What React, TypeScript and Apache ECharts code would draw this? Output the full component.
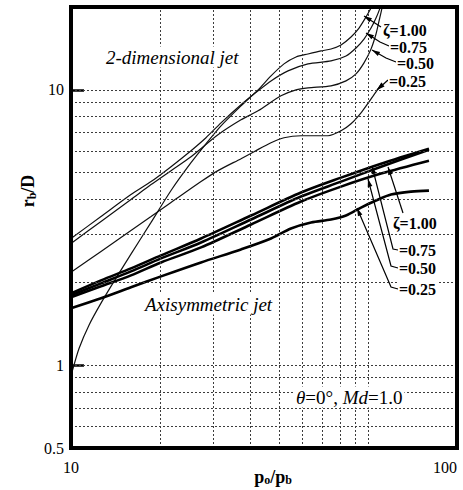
import React, { useEffect, useRef } from "react";
import * as echarts from "echarts";

// ---------- axes / ticks ----------
const xTickLabels = [10, 100];
const yTickLabels = [0.5, 1, 10];
const yTickMarks = [1, 10];
const yGridValues = [0.6, 0.7, 0.8, 0.9, 1, 2, 3, 4, 5, 6, 7, 8, 9, 10];
// the printed vertical grid follows its own log scale (10 .. ~198 across the frame)
const xGridValues = [20, 30, 40, 50, 60, 70, 80, 90, 100];
const xGridScaleMin = 10;
const xGridScaleMax = 198;

// ---------- 2-dimensional jet (thin lines) ----------
const jet2dZeta100: number[][] = [
  [10.06, 0.943], [10.49, 1.15], [11.14, 1.4], [11.96, 1.68], [13.08, 2.07], [14.3, 2.53],
  [16.12, 3.3], [18.16, 4.31], [20.46, 5.44], [22.37, 6.37], [24.47, 7.4], [27.57, 8.75],
  [30.52, 10.0], [32.97, 11.24], [35.63, 12.43], [38.28, 13.17], [41.11, 13.5], [44.44, 13.85],
  [47.17, 14.08], [50.07, 14.56], [53.14, 15.56], [55.74, 16.77], [58.11, 18.39], [59.88, 19.82],
  [60.6, 20.5],
];
const jet2dZeta075: number[][] = [
  [10, 2.885], [11.96, 3.466], [14.3, 4.165], [16.12, 4.642], [18.16, 5.26], [20.46, 6.01],
  [22.37, 6.7], [24.47, 7.59], [27.57, 8.83], [30.52, 9.92], [32.97, 10.78], [36.49, 11.72],
  [41.11, 12.43], [47.17, 12.74], [51.57, 13.28], [54.75, 14.2], [57.42, 15.3], [59.88, 16.77],
  [61.69, 18.23], [63.17, 19.82], [63.6, 20.5],
];
const jet2dZeta050: number[][] = [
  [10, 2.767], [11.96, 3.325], [14.3, 3.995], [16.12, 4.527], [18.16, 5.088], [20.46, 5.718],
  [24.03, 6.871], [27.57, 7.787], [30.52, 8.39], [34.99, 9.513], [38.28, 10.0], [41.11, 10.17],
  [47.17, 10.34], [51.57, 10.78], [54.75, 11.43], [57.42, 12.53], [59.88, 14.08], [61.69, 15.96],
  [62.8, 17.78], [63.93, 19.82], [64.2, 20.5],
];
const jet2dZeta025: number[][] = [
  [10, 2.173], [11.96, 2.588], [14.3, 3.084], [16.12, 3.466], [18.16, 3.896], [21.72, 4.642],
  [24.03, 5.088], [27.57, 5.623], [29.8, 5.963], [32.97, 6.427], [35.63, 6.701], [39.44, 6.813],
  [46.33, 6.813], [50.07, 7.1], [53.14, 7.53], [56.41, 8.254], [59.16, 9.05], [61.69, 9.834],
  [63.93, 10.6],
];

// ---------- axisymmetric jet (thick lines) ----------
const axiZeta100: number[][] = [
  [10, 1.823], [11.96, 2.032], [14.3, 2.246], [17.11, 2.504], [21.72, 2.885], [29.27, 3.495],
  [39.44, 4.236], [50.07, 4.799], [63.56, 5.394], [84.6, 6.113],
];
const axiZeta075: number[][] = [
  [10, 1.793], [11.96, 1.982], [14.3, 2.19], [17.11, 2.442], [21.72, 2.79], [29.27, 3.381],
  [39.44, 4.096], [50.07, 4.642], [63.56, 5.26], [84.6, 6.063],
];
const axiZeta050: number[][] = [
  [10, 1.764], [11.96, 1.933], [14.3, 2.119], [17.11, 2.361], [21.72, 2.677], [29.27, 3.243],
  [39.44, 3.929], [50.07, 4.451], [63.56, 4.963], [84.6, 5.53],
];
const axiZeta025: number[][] = [
  [10, 1.609], [11.96, 1.749], [14.3, 1.917], [17.11, 2.101], [21.72, 2.361], [27.57, 2.633],
  [32.97, 2.885], [37.14, 3.135], [41.87, 3.297], [47.17, 3.381], [51.57, 3.495], [56.41, 3.736],
  [61.69, 3.962], [67.45, 4.165], [76.0, 4.27], [84.6, 4.306],
];

const zetaLabels2d = ["ζ=1.00", "=0.75", "=0.50", "=0.25"];
const zetaLabelsAxi = ["ζ=1.00", "=0.75", "=0.50", "=0.25"];

const FONT = '"Liberation Serif", "Times New Roman", serif';

// annotation layout (pixels)
const labelPos2d = [
  { x: 382, y: 30, leader: [[381, 27], [364, 16]] },
  { x: 389, y: 47, leader: [[389, 46], [380, 42], [366, 33]] },
  { x: 396, y: 63, leader: [[396, 62], [386, 58], [372, 50]] },
  { x: 388, y: 81, leader: [[388, 80], [377, 90]] },
];
const labelPosAxi = [
  { x: 392, y: 223, leader: [[403, 213], [388, 167]] },
  { x: 398, y: 250, leader: [[398, 250], [393, 249], [372, 166]] },
  { x: 398, y: 268, leader: [[398, 268], [391, 266], [368, 179]] },
  { x: 398, y: 289, leader: [[398, 289], [391, 287], [357, 208]] },
];

function arrow(points: number[][], z: number) {
  const n = points.length;
  const [x2, y2] = points[n - 1];
  const [x1, y1] = points[n - 2];
  const len = Math.hypot(x2 - x1, y2 - y1) || 1;
  const dx = (x2 - x1) / len;
  const dy = (y2 - y1) / len;
  const L = 8;
  const w = 2.4;
  const bx = x2 - dx * L;
  const by = y2 - dy * L;
  return [
    {
      type: "polyline",
      z,
      shape: { points },
      style: { stroke: "#000", lineWidth: 1.2, fill: null },
    },
    {
      type: "polygon",
      z,
      shape: {
        points: [
          [x2, y2],
          [bx - dy * w, by + dx * w],
          [bx + dy * w, by - dx * w],
        ],
      },
      style: { fill: "#000" },
    },
  ];
}

export default function App() {
  const ref = useRef<HTMLDivElement>(null);

  useEffect(() => {
    const chart = echarts.init(ref.current!, null, { renderer: "svg" });

    const gridLineStyle = { color: "#3c3c3c", width: 1, type: [2, 2] };

    const thin = (name: string, data: number[][]) => ({
      name,
      type: "line",
      data,
      smooth: 0.25,
      symbol: "none",
      z: 3,
      lineStyle: { color: "#111", width: 1.2 },
    });
    const thick = (name: string, data: number[][]) => ({
      name,
      type: "line",
      data,
      smooth: 0.3,
      symbol: "none",
      z: 4,
      lineStyle: { color: "#000", width: 2.6 },
    });

    const labelStyle = {
      fontFamily: FONT,
      fontSize: 16,
      fontWeight: "bold",
      fill: "#000",
      align: "left",
      verticalAlign: "middle",
      backgroundColor: "#fff",
      padding: [0, 1],
    };

    const graphics: any[] = [];
    labelPos2d.forEach((p, i) => {
      graphics.push(...arrow(p.leader, 90));
      graphics.push({ type: "text", z: 100, x: p.x, y: p.y, style: { ...labelStyle, text: zetaLabels2d[i] } });
    });
    labelPosAxi.forEach((p, i) => {
      graphics.push(...arrow(p.leader, 90));
      graphics.push({ type: "text", z: 100, x: p.x, y: p.y, style: { ...labelStyle, text: zetaLabelsAxi[i] } });
    });

    graphics.push(
      {
        type: "text",
        z: 100,
        x: 104,
        y: 57,
        style: {
          text: "2-dimensional jet",
          fontFamily: FONT,
          fontStyle: "italic",
          fontSize: 19,
          fill: "#000",
          align: "left",
          verticalAlign: "middle",
          backgroundColor: "#fff",
          padding: [1, 2],
        },
      },
      {
        type: "text",
        z: 100,
        x: 143,
        y: 304,
        style: {
          text: "Axisymmetric jet",
          fontFamily: FONT,
          fontStyle: "italic",
          fontSize: 19,
          fill: "#000",
          align: "left",
          verticalAlign: "middle",
          backgroundColor: "#fff",
          padding: [1, 2],
        },
      },
      {
        type: "text",
        z: 100,
        x: 294,
        y: 397,
        style: {
          text: "{i|θ}{n|=0°, }{i|Md}{n|=1.0}",
          align: "left",
          verticalAlign: "middle",
          backgroundColor: "#fff",
          padding: [1, 2],
          rich: {
            i: { fontFamily: FONT, fontStyle: "italic", fontSize: 19, fill: "#000" },
            n: { fontFamily: FONT, fontSize: 19, fill: "#000" },
          },
        },
      },
      {
        type: "text",
        z: 100,
        x: 28,
        y: 191,
        rotation: Math.PI / 2,
        style: {
          text: "{a|r}{s|b}{a|/D}",
          align: "center",
          verticalAlign: "middle",
          rich: {
            a: { fontFamily: FONT, fontWeight: "bold", fontSize: 18, fill: "#000" },
            s: { fontFamily: FONT, fontWeight: "bold", fontSize: 12, fill: "#000", padding: [7, 0, 0, 0] },
          },
        },
      },
      {
        type: "text",
        z: 100,
        x: 273,
        y: 477,
        style: {
          text: "{a|p}{s|o}{a|/p}{s|b}",
          align: "center",
          verticalAlign: "middle",
          rich: {
            a: { fontFamily: FONT, fontWeight: "bold", fontSize: 18, fill: "#000" },
            s: { fontFamily: FONT, fontWeight: "bold", fontSize: 12, fill: "#000", padding: [6, 0, 0, 0] },
          },
        },
      }
    );

    const option: any = {
      animation: false,
      backgroundColor: "#fff",
      grid: {
        left: 71,
        right: 6,
        top: 7,
        bottom: 42,
        show: true,
        borderColor: "#000",
        borderWidth: 4,
        backgroundColor: "transparent",
        z: 10,
      },
      xAxis: [
        {
          type: "log",
          logBase: 10,
          min: 10,
          max: 100,
          axisLine: { show: false },
          axisTick: { show: false },
          splitLine: { show: false },
          minorSplitLine: { show: false },
          axisLabel: {
            customValues: xTickLabels,
            formatter: (v: number) => String(Math.round(v)),
            fontFamily: FONT,
            fontSize: 16,
            color: "#000",
            margin: 11,
            alignMaxLabel: "right",
          },
        },
        {
          type: "log",
          logBase: 10,
          min: xGridScaleMin,
          max: xGridScaleMax,
          show: false,
          splitLine: { show: false },
        },
      ],
      yAxis: {
        type: "log",
        logBase: 10,
        min: 0.5,
        max: 20,
        axisLine: { show: false },
        axisTick: {
          show: true,
          inside: true,
          length: 13,
          customValues: yTickMarks,
          lineStyle: { color: "#000", width: 2.5 },
        },
        splitLine: { show: false },
        axisLabel: {
          customValues: yTickLabels,
          formatter: (v: number) => String(Math.round(v * 10) / 10),
          fontFamily: FONT,
          fontSize: 16,
          color: "#000",
          margin: 7,
        },
      },
      graphic: { elements: graphics },
      series: [
        {
          type: "line",
          data: [],
          xAxisIndex: 0,
          yAxisIndex: 0,
          silent: true,
          z: 1,
          markLine: {
            silent: true,
            symbol: ["none", "none"],
            label: { show: false },
            emphasis: { disabled: true },
            lineStyle: gridLineStyle,
            data: yGridValues.map((v) => ({ yAxis: v })),
          },
        },
        {
          type: "line",
          data: [],
          xAxisIndex: 1,
          yAxisIndex: 0,
          silent: true,
          z: 1,
          markLine: {
            silent: true,
            symbol: ["none", "none"],
            label: { show: false },
            emphasis: { disabled: true },
            lineStyle: gridLineStyle,
            data: xGridValues.map((v) => ({ xAxis: v })),
          },
        },
        thin("2-D ζ=1.00", jet2dZeta100),
        thin("2-D ζ=0.75", jet2dZeta075),
        thin("2-D ζ=0.50", jet2dZeta050),
        thin("2-D ζ=0.25", jet2dZeta025),
        thick("Axi ζ=1.00", axiZeta100),
        thick("Axi ζ=0.75", axiZeta075),
        thick("Axi ζ=0.50", axiZeta050),
        thick("Axi ζ=0.25", axiZeta025),
      ],
    };

    chart.setOption(option);
    return () => chart.dispose();
  }, []);

  return (
    <div
      ref={ref}
      style={{ position: "fixed", left: 0, top: 0, width: 463, height: 490, background: "#fff" }}
    />
  );
}
